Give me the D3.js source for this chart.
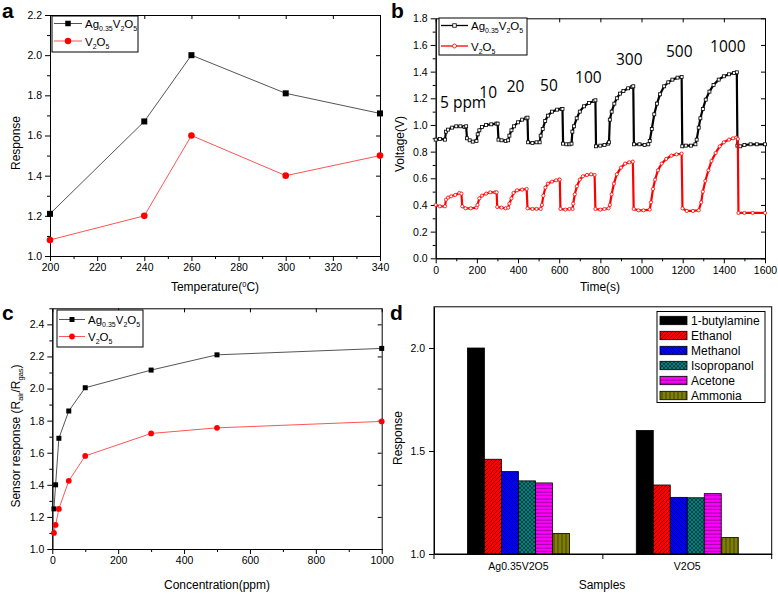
<!DOCTYPE html>
<html><head><meta charset="utf-8">
<script src="https://cdn.jsdelivr.net/npm/d3@7/dist/d3.min.js"></script>
<style>
body{margin:0;background:#fff;}
svg{display:block;font-family:"Liberation Sans",Arial,sans-serif;}
</style></head><body>
<svg id="chart" width="778" height="594"></svg>
<script>
// ---------- DATA ----------
// (a) response vs temperature
const tempC = [200, 240, 260, 300, 340];
const respAgTemp = [1.21, 1.67, 2.00, 1.81, 1.71];
const respVTemp = [1.08, 1.20, 1.60, 1.40, 1.50];
const tempTicks = [200, 220, 240, 260, 280, 300, 320, 340];
const respTicksA = [1.0, 1.2, 1.4, 1.6, 1.8, 2.0, 2.2];

// (b) transient voltage [time s, voltage V]
const agTransient = [
[0,0.89],[20,0.895],[45,0.89],
[50,0.95],[60,0.965],[80,0.98],[100,0.99],[120,0.99],[140,0.985],[148,0.99],
[152,0.90],[165,0.885],[180,0.875],[198,0.88],
[204,0.93],[212,0.96],[225,0.985],[245,1.0],[270,1.005],[295,1.01],[301,1.01],
[305,0.89],[320,0.885],[340,0.88],[352,0.885],
[358,0.92],[368,0.96],[380,0.99],[400,1.02],[420,1.04],[440,1.05],[446,1.055],
[449,0.87],[470,0.865],[490,0.87],[505,0.87],
[510,0.92],[520,0.97],[532,1.03],[545,1.07],[565,1.10],[590,1.115],[612,1.12],[616,1.12],
[619,0.86],[635,0.855],[650,0.855],[660,0.86],
[664,0.95],[672,0.99],[685,1.05],[700,1.10],[720,1.14],[745,1.165],[770,1.18],[776,1.185],
[779,0.84],[800,0.845],[820,0.85],[838,0.86],
[842,0.87],[846,1.04],[855,1.10],[868,1.16],[880,1.20],[895,1.235],[912,1.255],[935,1.275],[955,1.285],[960,1.29],
[963,0.855],[990,0.855],[1015,0.85],[1033,0.855],
[1040,0.88],[1050,0.97],[1062,1.08],[1075,1.16],[1090,1.23],[1110,1.29],[1130,1.32],[1150,1.34],[1175,1.355],[1195,1.36],
[1198,0.84],[1215,0.845],[1240,0.845],[1262,0.855],
[1268,0.89],[1278,0.98],[1286,1.05],[1298,1.12],[1312,1.19],[1330,1.25],[1350,1.30],[1375,1.34],[1400,1.365],[1425,1.38],[1450,1.39],[1463,1.395],
[1466,0.845],[1480,0.84],[1500,0.85],[1530,0.855],[1560,0.855],[1600,0.855]];
const vTransient = [
[0,0.40],[20,0.39],[45,0.39],
[50,0.44],[60,0.455],[75,0.465],[95,0.475],[115,0.49],[125,0.485],
[129,0.39],[145,0.375],[170,0.375],[198,0.38],
[203,0.40],[212,0.45],[225,0.47],[245,0.485],[265,0.495],[290,0.495],[296,0.495],
[299,0.385],[320,0.38],[340,0.375],[352,0.38],
[358,0.41],[368,0.45],[378,0.49],[395,0.51],[420,0.515],[442,0.52],
[446,0.375],[470,0.37],[490,0.37],[510,0.37],
[516,0.40],[523,0.47],[533,0.53],[545,0.56],[565,0.575],[585,0.585],[600,0.59],[603,0.59],
[606,0.37],[630,0.365],[650,0.37],[665,0.37],
[668,0.41],[676,0.48],[686,0.54],[700,0.59],[715,0.615],[735,0.625],[755,0.63],[772,0.625],
[776,0.37],[800,0.365],[820,0.37],[840,0.375],
[846,0.40],[855,0.48],[866,0.56],[880,0.63],[900,0.68],[920,0.71],[940,0.72],[958,0.725],
[962,0.37],[985,0.36],[1010,0.36],[1040,0.365],
[1046,0.42],[1056,0.52],[1066,0.59],[1080,0.66],[1098,0.71],[1120,0.745],[1145,0.77],[1170,0.78],[1195,0.785],
[1199,0.375],[1220,0.355],[1250,0.355],[1278,0.36],
[1290,0.42],[1298,0.50],[1310,0.58],[1325,0.66],[1340,0.73],[1360,0.79],[1380,0.84],[1400,0.87],[1425,0.89],[1445,0.90],[1460,0.905],[1468,0.895],
[1471,0.34],[1500,0.34],[1540,0.34],[1600,0.34]];
const concLabels = ["5 ppm", "10", "20", "50", "100", "300", "500", "1000"];
const timeTicks = [0, 200, 400, 600, 800, 1000, 1200, 1400, 1600];
const voltTicks = [0.0, 0.2, 0.4, 0.6, 0.8, 1.0, 1.2, 1.4, 1.6, 1.8];

// (c) response vs concentration
const concPpm = [5, 10, 20, 50, 100, 300, 500, 1000];
const respAgConc = [1.25, 1.40, 1.69, 1.86, 2.005, 2.115, 2.21, 2.25];
const respVConc = [1.10, 1.15, 1.25, 1.425, 1.58, 1.72, 1.755, 1.795];
const concTicks = [0, 200, 400, 600, 800, 1000];
const respTicksC = [1.0, 1.2, 1.4, 1.6, 1.8, 2.0, 2.2, 2.4];

// (d) selectivity
const samples = ["Ag0.35V2O5", "V2O5"];
const gases = ["1-butylamine", "Ethanol", "Methanol", "Isopropanol", "Acetone", "Ammonia"];
const respAgGas = [2.00, 1.46, 1.40, 1.355, 1.345, 1.10];
const respVGas = [1.60, 1.335, 1.275, 1.273, 1.293, 1.08];
const respTicksD = [1.0, 1.5, 2.0];

// ---------- DRAW ----------
const svg = d3.select("#chart");
const defs = svg.append("defs");
const FONT = "'Liberation Sans', Arial, sans-serif";

function rich(t, parts, base, small, shift) {
  let prev = 0;
  parts.forEach(([s, lvl]) => {
    const ts = t.append("tspan").text(s).attr("font-size", lvl ? small : base);
    if (lvl !== prev) ts.attr("dy", (lvl - prev) * shift);
    prev = lvl;
  });
  return t;
}
const AG = [["Ag",0],["0.35",1],["V",0],["2",1],["O",0],["5",1]];
const VO = [["V",0],["2",1],["O",0],["5",1]];

function styleAxis(g, fs) {
  g.select(".domain").attr("stroke", "#000").attr("stroke-width", 1);
  g.selectAll(".tick line").attr("stroke", "#000");
  g.selectAll("text").attr("font-size", fs).attr("font-family", FONT).attr("fill", "#000");
  g.attr("font-family", FONT);
}

function frame(x, y, xMaj, xMin, yMaj, yMin, xFmt, yFmt) {
  const [x0, x1] = x.range(), [yb, yt] = y.range();
  const g = svg.append("g");
  g.append("g").attr("transform", `translate(0,${yb})`)
    .call(d3.axisBottom(x).tickValues(xMin).tickSize(3).tickSizeOuter(0).tickFormat(""))
    .call(s => styleAxis(s, 10.5));
  g.append("g").attr("transform", `translate(0,${yb})`)
    .call(d3.axisBottom(x).tickValues(xMaj).tickSize(5).tickSizeOuter(0).tickPadding(3).tickFormat(xFmt))
    .call(s => styleAxis(s, 10.5));
  g.append("g").attr("transform", `translate(${x0},0)`)
    .call(d3.axisLeft(y).tickValues(yMin).tickSize(3).tickSizeOuter(0).tickFormat(""))
    .call(s => styleAxis(s, 10.5));
  g.append("g").attr("transform", `translate(${x0},0)`)
    .call(d3.axisLeft(y).tickValues(yMaj).tickSize(5).tickSizeOuter(0).tickPadding(3).tickFormat(yFmt))
    .call(s => styleAxis(s, 10.5));
  g.append("g").attr("transform", `translate(0,${yt})`)
    .call(d3.axisTop(x).tickValues(xMaj).tickSize(-4).tickSizeOuter(0).tickFormat(""))
    .call(s => styleAxis(s, 10.5));
  g.append("g").attr("transform", `translate(${x1},0)`)
    .call(d3.axisRight(y).tickValues(yMaj).tickSize(-4).tickSizeOuter(0).tickFormat(""))
    .call(s => styleAxis(s, 10.5));
  return g;
}
function minorBetween(ticks) {
  const out = [];
  for (let i = 0; i < ticks.length - 1; i++) out.push((ticks[i] + ticks[i + 1]) / 2);
  return out;
}
function panelLabel(txt, x, y) {
  svg.append("text").attr("x", x).attr("y", y).attr("font-size", 21).attr("font-weight", "bold")
    .attr("font-family", FONT).text(txt);
}
function vTitle(x, y) {
  return svg.append("text").attr("transform", `translate(${x},${y}) rotate(-90)`)
    .attr("text-anchor", "middle").attr("font-size", 12).attr("font-family", FONT);
}
function hTitle(x, y) {
  return svg.append("text").attr("x", x).attr("y", y)
    .attr("text-anchor", "middle").attr("font-size", 12).attr("font-family", FONT);
}
function square(g, cx, cy, s, fill, stroke) {
  g.append("rect").attr("x", cx - s / 2).attr("y", cy - s / 2).attr("width", s).attr("height", s)
    .attr("fill", fill).attr("stroke", stroke || "none").attr("stroke-width", 0.8);
}
function legendBox(x, y, w, h) {
  svg.append("rect").attr("x", x).attr("y", y).attr("width", w).attr("height", h)
    .attr("fill", "#fff").attr("stroke", "#000").attr("stroke-width", 1);
}
const fmt1 = d3.format(".1f");

// ===== Panel a =====
{
  const x = d3.scaleLinear().domain([200, 340]).range([50, 380]);
  const y = d3.scaleLinear().domain([1.0, 2.2]).range([256, 15]);
  frame(x, y, tempTicks, minorBetween(tempTicks), respTicksA, minorBetween(respTicksA), d3.format("d"), fmt1);
  const line = d3.line().x((d, i) => x(tempC[i])).y(d => y(d));
  svg.append("path").attr("d", line(respAgTemp)).attr("fill", "none").attr("stroke", "#555").attr("stroke-width", 1);
  svg.append("path").attr("d", line(respVTemp)).attr("fill", "none").attr("stroke", "#ff5555").attr("stroke-width", 1);
  const g = svg.append("g");
  respAgTemp.forEach((v, i) => square(g, x(tempC[i]), y(v), 6, "#000"));
  respVTemp.forEach((v, i) => g.append("circle").attr("cx", x(tempC[i])).attr("cy", y(v)).attr("r", 3.3).attr("fill", "#ff0000"));
  legendBox(52, 16, 86, 36);
  const lg = svg.append("g");
  lg.append("line").attr("x1", 54).attr("x2", 82).attr("y1", 23.5).attr("y2", 23.5).attr("stroke", "#555");
  square(lg, 68, 23.5, 5.5, "#000");
  rich(lg.append("text").attr("x", 85).attr("y", 28).attr("font-family", FONT), AG, 11.5, 7, 3);
  lg.append("line").attr("x1", 54).attr("x2", 82).attr("y1", 41).attr("y2", 41).attr("stroke", "#ff5555");
  lg.append("circle").attr("cx", 68).attr("cy", 41).attr("r", 3.2).attr("fill", "#ff0000");
  rich(lg.append("text").attr("x", 85).attr("y", 45.5).attr("font-family", FONT), VO, 11.5, 7, 3);
  vTitle(20, 143).text("Response");
  rich(hTitle(215, 291), [["Temperature(",0],["0",-1],["C)",0]], 12, 7.5, 4);
  panelLabel("a", 2, 18);
}

// ===== Panel b =====
{
  const x = d3.scaleLinear().domain([0, 1600]).range([435.7, 765]);
  const y = d3.scaleLinear().domain([0, 1.8]).range([258.3, 18.3]);
  frame(x, y, timeTicks, minorBetween(timeTicks), voltTicks, minorBetween(voltTicks), d3.format("d"), fmt1);
  const line = d3.line().x(d => x(d[0])).y(d => y(d[1]));
  const series = [[agTransient, "#000", "sq"], [vTransient, "#ff0000", "ci"]];
  series.forEach(([data, col, shape]) => {
    svg.append("path").attr("d", line(data)).attr("fill", "none").attr("stroke", col).attr("stroke-width", 2.2);
    const g = svg.append("g");
    data.forEach(d => {
      if (shape === "sq") square(g, x(d[0]), y(d[1]), 3, "#fff", col);
      else g.append("circle").attr("cx", x(d[0])).attr("cy", y(d[1])).attr("r", 1.6).attr("fill", "#fff").attr("stroke", col).attr("stroke-width", 0.8);
    });
  });
  // concentration annotations (anchor in data units)
  const labelAt = [[21, 1.125], [212, 1.20], [345, 1.25], [507, 1.257], [677, 1.317], [876, 1.45], [1119, 1.508], [1333, 1.55]];
  concLabels.forEach((t, i) => {
    svg.append("text").attr("x", x(labelAt[i][0])).attr("y", y(labelAt[i][1]))
      .attr("font-size", 15.5).attr("font-family", "'Open Sans', sans-serif").text(t);
  });
  legendBox(439, 18, 88, 37);
  const lg = svg.append("g");
  lg.append("line").attr("x1", 441).attr("x2", 468).attr("y1", 25.5).attr("y2", 25.5).attr("stroke", "#000").attr("stroke-width", 1.3);
  square(lg, 454.5, 25.5, 3.5, "#fff", "#000");
  rich(lg.append("text").attr("x", 471).attr("y", 30).attr("font-family", FONT), AG, 11.5, 7, 3);
  lg.append("line").attr("x1", 441).attr("x2", 468).attr("y1", 46).attr("y2", 46).attr("stroke", "#ff0000").attr("stroke-width", 1.3);
  lg.append("circle").attr("cx", 454.5).attr("cy", 46).attr("r", 2).attr("fill", "#fff").attr("stroke", "#ff0000").attr("stroke-width", 0.8);
  rich(lg.append("text").attr("x", 471).attr("y", 50.5).attr("font-family", FONT), VO, 11.5, 7, 3);
  vTitle(404, 144).text("Voltage(V)");
  hTitle(600, 291).text("Time(s)");
  panelLabel("b", 391, 18);
}

// ===== Panel c =====
{
  const x = d3.scaleLinear().domain([0, 1000]).range([52.3, 381.7]);
  const y = d3.scaleLinear().domain([1.0, 2.5]).range([549, 308.3]);
  frame(x, y, concTicks, minorBetween(concTicks), respTicksC, minorBetween(respTicksC).concat([2.5]), d3.format("d"), fmt1);
  const line = d3.line().x((d, i) => x(concPpm[i])).y(d => y(d));
  svg.append("path").attr("d", line(respAgConc)).attr("fill", "none").attr("stroke", "#555").attr("stroke-width", 1);
  svg.append("path").attr("d", line(respVConc)).attr("fill", "none").attr("stroke", "#ff5555").attr("stroke-width", 1);
  const g = svg.append("g");
  respAgConc.forEach((v, i) => square(g, x(concPpm[i]), y(v), 5, "#000"));
  respVConc.forEach((v, i) => g.append("circle").attr("cx", x(concPpm[i])).attr("cy", y(v)).attr("r", 2.9).attr("fill", "#ff0000"));
  legendBox(57, 310, 86, 37);
  const lg = svg.append("g");
  lg.append("line").attr("x1", 59).attr("x2", 85).attr("y1", 319.5).attr("y2", 319.5).attr("stroke", "#555");
  square(lg, 72, 319.5, 5, "#000");
  rich(lg.append("text").attr("x", 88).attr("y", 324).attr("font-family", FONT), AG, 11.5, 7, 3);
  lg.append("line").attr("x1", 59).attr("x2", 85).attr("y1", 336.5).attr("y2", 336.5).attr("stroke", "#ff5555");
  lg.append("circle").attr("cx", 72).attr("cy", 336.5).attr("r", 2.9).attr("fill", "#ff0000");
  rich(lg.append("text").attr("x", 88).attr("y", 341).attr("font-family", FONT), VO, 11.5, 7, 3);
  rich(vTitle(20, 436), [["Sensor response (R",0],["air",1],["/R",0],["gas",1],[")",0]], 12, 7.5, 3);
  hTitle(217, 589).text("Concentration(ppm)");
  panelLabel("c", 2, 320);
}

// ===== Panel d =====
{
  const x0 = d3.scaleBand().domain(samples).range([434, 771.7]);
  const x1 = d3.scaleBand().domain(gases).range([-x0.bandwidth() * 0.302, x0.bandwidth() * 0.302]);
  const y = d3.scaleLinear().domain([1.0, 2.2]).range([554, 306.8]);
  // patterns
  const pat = (id, col, d, w, h) => {
    const p = defs.append("pattern").attr("id", id).attr("patternUnits", "userSpaceOnUse").attr("width", w).attr("height", h);
    p.append("rect").attr("width", w).attr("height", h).attr("fill", col);
    if (d) p.append("path").attr("d", d).attr("stroke", "#000").attr("stroke-opacity", 0.6).attr("stroke-width", 0.8).attr("fill", "none");
  };
  pat("p0", "#000000", null, 4, 4);
  pat("p1", "#ff0000", "M-1,1 l2,-2 M0,4 l4,-4 M3,5 l2,-2", 4, 4);
  pat("p2", "#0000ff", "M-1,3 l2,2 M0,0 l4,4 M3,-1 l2,2", 4, 4);
  pat("p3", "#008080", "M-1,1 l2,-2 M0,4 l4,-4 M3,5 l2,-2 M-1,3 l2,2 M0,0 l4,4 M3,-1 l2,2", 4, 4);
  pat("p4", "#ff00ff", "M0,2 H4", 4, 3.5);
  pat("p5", "#808000", "M2,0 V4", 4, 4);
  const fills = gases.map((g, i) => `url(#p${i})`);
  const vals = [respAgGas, respVGas];
  const bars = svg.append("g");
  samples.forEach((s, si) => {
    const cx = x0(s) + x0.bandwidth() / 2;
    gases.forEach((gname, gi) => {
      bars.append("rect").attr("x", cx + x1(gname)).attr("width", x1.bandwidth())
        .attr("y", y(vals[si][gi])).attr("height", y(1.0) - y(vals[si][gi]))
        .attr("fill", fills[gi]).attr("stroke", "#000").attr("stroke-width", 0.8);
    });
  });
  // frame
  const [yb, yt] = y.range();
  svg.append("rect").attr("x", 434).attr("y", yt).attr("width", 771.7 - 434).attr("height", yb - yt)
    .attr("fill", "none").attr("stroke", "#000").attr("stroke-width", 1);
  svg.append("g").attr("transform", `translate(434,0)`)
    .call(d3.axisLeft(y).tickValues(respTicksD).tickSize(5).tickSizeOuter(0).tickPadding(4).tickFormat(fmt1))
    .call(s => styleAxis(s, 10.5));
  svg.append("g").attr("transform", `translate(0,${yb})`)
    .call(d3.axisBottom(x0).tickSize(0).tickSizeOuter(0).tickPadding(9))
    .call(s => styleAxis(s, 10.5));
  const gb = svg.append("g");
  [x0.range()[0], x0(samples[1]), x0.range()[1]].forEach(px => {
    gb.append("line").attr("x1", px).attr("x2", px).attr("y1", yb).attr("y2", yb + 5).attr("stroke", "#000");
  });
  // legend
  legendBox(657, 311.5, 108, 91);
  const lg = svg.append("g");
  gases.forEach((gname, i) => {
    const cy = 320.5 + i * 15;
    lg.append("rect").attr("x", 660).attr("y", cy - 4.2).attr("width", 27).attr("height", 8.4)
      .attr("fill", fills[i]).attr("stroke", "#000").attr("stroke-width", 0.8);
    lg.append("text").attr("x", 691).attr("y", cy + 4.3).attr("font-size", 12).attr("font-family", FONT).text(gname);
  });
  vTitle(402, 438).text("Response");
  hTitle(602, 589).text("Samples");
  panelLabel("d", 390, 320);
}
</script>
</body></html>
